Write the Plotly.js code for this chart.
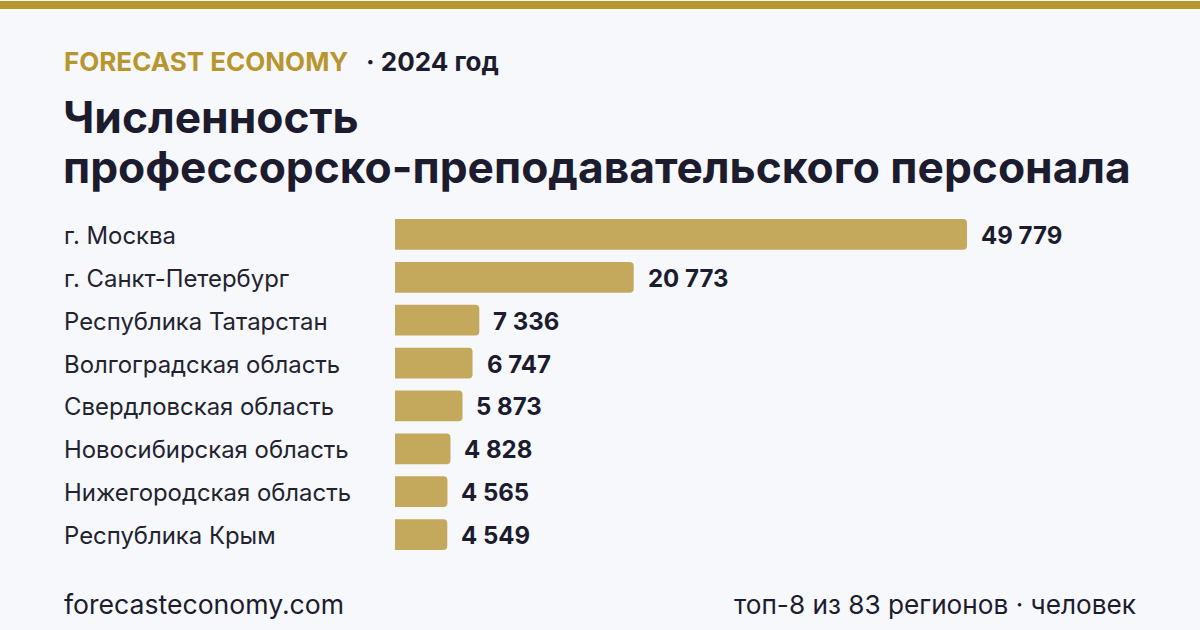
<!DOCTYPE html>
<html>
<head>
<meta charset="utf-8">
<script src="https://cdn.plot.ly/plotly-3.0.1.min.js"></script>
<style>
html,body{margin:0;padding:0;background:#f7f8fc;}
#chart{width:1200px;height:630px;}
</style>
</head>
<body>
<div id="chart"></div>
<script>
const regions = [
  "г. Москва",
  "г. Санкт-Петербург",
  "Республика Татарстан",
  "Волгоградская область",
  "Свердловская область",
  "Новосибирская область",
  "Нижегородская область",
  "Республика Крым"
];
const values = [49779, 20773, 7336, 6747, 5873, 4828, 4565, 4549];
const brand = "FORECAST ECONOMY";
const yearLabel = "· 2024 год";
const titleLines = ["Численность", "профессорско-преподавательского персонала"];
const sourceText = "forecasteconomy.com";
const noteText = "топ-8 из 83 регионов · человек";

const W = 1200, H = 630;
const L = 395, R = 1136, T = 212.5, B = 556.5;
const pw = R - L, ph = B - T;
const px = x => (x - L) / pw;
const py = y => (B - y) / ph;
const fmt = v => String(v).replace(/\B(?=(\d{3})+(?!\d))/g, " ");

const dark = "#1c1c2e";
const gold = "#b8962e";
const barColor = "#c4a85c";
const FONT = "Inter, 'Noto Sans', sans-serif";

const trace = {
  type: "bar",
  orientation: "h",
  x: values,
  y: regions,
  marker: {color: barColor, line: {width: 0}},
  hoverinfo: "skip",
  width: 0.72
};

const annotations = [];
regions.forEach((r, i) => {
  annotations.push({
    xref: "paper", yref: "y", x: px(62), y: r, yshift: -1,
    xanchor: "left", yanchor: "middle", showarrow: false,
    text: r, font: {family: FONT, size: 23.9, color: "#23232f"}
  });
  annotations.push({
    xref: "x", yref: "y", x: values[i], y: r, xshift: 12, yshift: -1,
    xanchor: "left", yanchor: "middle", showarrow: false,
    text: "<b>" + fmt(values[i]) + "</b>",
    font: {family: FONT, size: 24, color: dark, weight: 700}
  });
});

annotations.push({
  xref: "paper", yref: "paper", x: px(62), y: py(61),
  xanchor: "left", yanchor: "middle", showarrow: false,
  text: "<b>" + brand + "</b>", font: {family: FONT, size: 26, color: gold, weight: 700}
});
annotations.push({
  xref: "paper", yref: "paper", x: px(364), y: py(61),
  xanchor: "left", yanchor: "middle", showarrow: false,
  text: "<b>" + yearLabel + "</b>", font: {family: FONT, size: 26, color: dark, weight: 700}
});
annotations.push({
  xref: "paper", yref: "paper", x: px(61), y: py(116),
  xanchor: "left", yanchor: "middle", showarrow: false,
  text: "<b>" + titleLines[0] + "</b>", font: {family: FONT, size: 44.3, color: dark, weight: 700}
});
annotations.push({
  xref: "paper", yref: "paper", x: px(61), y: py(166),
  xanchor: "left", yanchor: "middle", showarrow: false,
  text: "<b>" + titleLines[1] + "</b>", font: {family: FONT, size: 44.3, color: dark, weight: 700}
});
annotations.push({
  xref: "paper", yref: "paper", x: px(62), y: py(605),
  xanchor: "left", yanchor: "middle", showarrow: false,
  text: sourceText, font: {family: FONT, size: 26.6, color: dark}
});
annotations.push({
  xref: "paper", yref: "paper", x: px(1138), y: py(605),
  xanchor: "right", yanchor: "middle", showarrow: false,
  text: noteText, font: {family: FONT, size: 26.2, color: dark}
});

const layout = {
  width: W, height: H,
  paper_bgcolor: "#f7f8fc",
  plot_bgcolor: "rgba(0,0,0,0)",
  margin: {l: L, r: W - R, t: T, b: H - B, pad: 0},
  showlegend: false,
  barcornerradius: 4,
  xaxis: {range: [0, 49779 * pw / 572], visible: false, fixedrange: true},
  yaxis: {autorange: "reversed", visible: false, fixedrange: true},
  annotations: annotations,
  shapes: [{
    type: "rect", xref: "paper", yref: "paper",
    x0: px(0), x1: px(W), y0: py(0), y1: py(8),
    fillcolor: gold, line: {width: 0}, layer: "above"
  }]
};

Plotly.newPlot("chart", [trace], layout, {displayModeBar: false, staticPlot: true});
</script>
</body>
</html>
